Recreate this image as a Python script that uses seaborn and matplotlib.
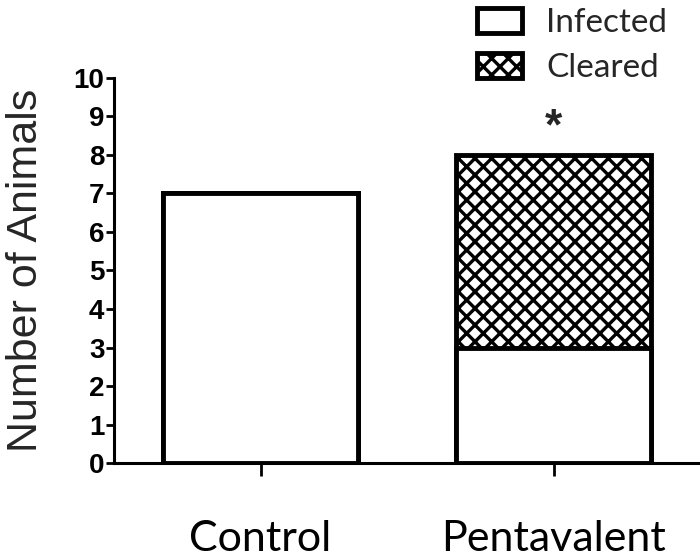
import numpy as np
import pandas as pd
import matplotlib
matplotlib.use("Agg")
import matplotlib.pyplot as plt
import seaborn as sns
from matplotlib.patches import Patch

# data
groups = ["Control", "Pentavalent"]
infected = [7, 3]
cleared = [0, 5]
y_ticks = list(range(0, 11))

sns.set_theme(style="ticks")
plt.rcParams["hatch.linewidth"] = 2.4
plt.rcParams["font.family"] = ["Liberation Sans", "DejaVu Sans"]

data = pd.DataFrame({"group": groups, "infected": infected, "cleared": cleared})
data["total"] = data["infected"] + data["cleared"]

fig = plt.figure(figsize=(7, 5.6), dpi=100)
ax = fig.add_axes([0.163, 0.173, 0.837, 0.688])

# stacked: totals hatched first, infected part drawn over in white
sns.barplot(data=data, x="group", y="total", color="white", edgecolor="black",
            linewidth=3.5, width=0.667, hatch="xx", ax=ax)
sns.barplot(data=data, x="group", y="infected", color="white", edgecolor="black",
            linewidth=3.5, width=0.667, ax=ax)

ax.set_xlim(-0.5, 1.5)
ax.set_ylim(0, 10)
ax.set_yticks(y_ticks)
ax.set_yticklabels([str(t) for t in y_ticks], fontweight="bold", fontsize=20)
ax.set_xlabel("")
ax.set_ylabel("Number of Animals", fontsize=31, labelpad=20)
ax.set_xticks(range(len(groups)))
ax.set_xticklabels(groups, fontsize=31, family=["Lato", "DejaVu Sans"])

sns.despine(ax=ax)
for s in ["left", "bottom"]:
    ax.spines[s].set_linewidth(2.2)
    ax.spines[s].set_color("black")
ax.tick_params(axis="y", length=6, width=2, pad=1, colors="black")
ax.tick_params(axis="x", length=9, width=2, pad=32, colors="black")

ax.text(1, 8.7, "*", ha="center", va="center", fontsize=32, fontweight="bold",
        clip_on=False)

handles = [Patch(facecolor="white", edgecolor="black", linewidth=3.5, label="Infected"),
           Patch(facecolor="white", edgecolor="black", linewidth=3.5, hatch="xx",
                 label="Cleared")]
fig.legend(handles=handles, loc="upper left", bbox_to_anchor=(477 / 700, 1 - 8 / 560),
           frameon=False, borderpad=0, borderaxespad=0, handlelength=1.35,
           handleheight=0.75, handletextpad=0.72, labelspacing=0.45,
           prop={"family": "Lato", "size": 24})

fig.savefig("out.png", dpi=100)
